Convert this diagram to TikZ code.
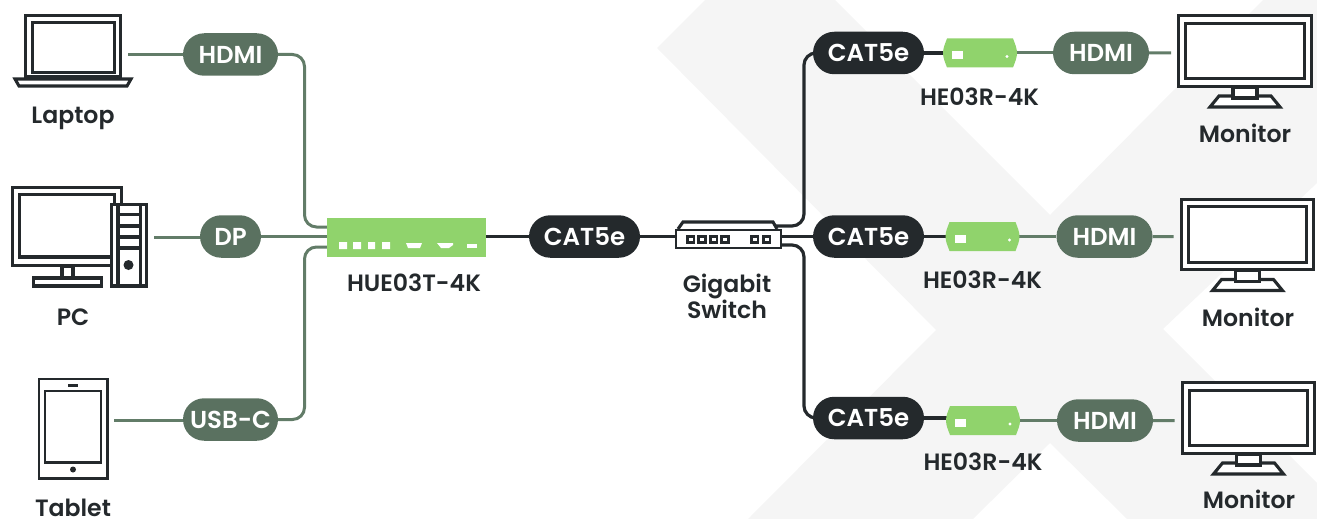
\documentclass[tikz,border=0pt]{standalone}
\usepackage{fontspec}
\setmainfont{Poppins}[UprightFont=* SemiBold]
\usetikzlibrary{shapes.misc}
\definecolor{white}{rgb}{1.0, 1.0, 1.0}
\definecolor{dark}{RGB}{36,41,44}
\definecolor{sage}{RGB}{90,113,96}
\definecolor{cablegreen}{RGB}{98,124,104}
\definecolor{lime}{RGB}{144,211,108}
\definecolor{backgrey}{RGB}{245,245,245}
\pgfdeclarelayer{backlayer}
\pgfdeclarelayer{edgelayer}
\pgfdeclarelayer{nodelayer}
\pgfsetlayers{backlayer,edgelayer,nodelayer,main}
\tikzstyle{pill}=[rounded rectangle,inner sep=0pt,minimum height=42.5pt,text=white,font=\fontsize{24.5}{28}\selectfont]
\tikzstyle{greenpill}=[pill,fill=sage]
\tikzstyle{darkpill}=[pill,fill=dark,minimum width=111pt]
\tikzstyle{label}=[inner sep=0pt,text=dark,align=center,font=\fontsize{23.6}{28}\selectfont]
\tikzstyle{icon}=[draw=dark,fill=white,line width=3.1pt]
\tikzstyle{cable}=[line width=3pt,color=cablegreen,rounded corners=12pt]
\tikzstyle{darkcable}=[line width=3.2pt,color=dark,rounded corners=12pt]
\tikzset{
    monitor/.pic={
        \draw [style = icon] (-66.4,-35.4) rectangle (66.4,35.4);
        \draw [style = icon] (-59.4,-27.6) rectangle (59.4,27.6);
        \draw [style = icon] (-26,45) -- (26,45) -- (35,56) -- (-35,56) -- cycle;
        \draw [style = icon] (-12,36) rectangle (12,47);
        \coordinate (-in) at (-74,2);
    },
    receiver/.pic={
        \fill [lime] (-33,-14.5) -- (33,-14.5) .. controls (35,-9) and (37,-5) .. (37,0)
            .. controls (37,5) and (35,9) .. (33,14.5) -- (-33,14.5)
            .. controls (-35,9) and (-37,5) .. (-37,0) .. controls (-37,-5) and (-35,-9) .. (-33,-14.5) -- cycle;
        \fill [white] (-28,-1.5) rectangle (-17,6.5);
        \fill [white] (27,3.5) circle (1.6);
        \coordinate (-c) at (0,0);
    }
}
\begin{document}
\begin{tikzpicture}[x=1pt,y=-1pt]
        \useasboundingbox (0,0) rectangle (1317,519);

        \begin{pgfonlayer}{backlayer}
            \fill [backgrey] (705,0) -- (657,48) -- (936,330) -- (748,519) -- (973,519) -- (1050,443)
                -- (1127,519) -- (1317,519) -- (1317,483) -- (1163,329) -- (1317,183) -- (1317,0)
                -- (1263,0) -- (1050,215) -- (835,0) -- cycle;
        \end{pgfonlayer}

        \begin{pgfonlayer}{nodelayer}
            % sources
            \draw [style = icon] (25.5,15.5) rectangle (120.5,77);
            \draw [style = icon] (32.5,22.5) rectangle (114.5,72.5);
            \draw [style = icon] (15,79) -- (131,79) -- (127,86) -- (19,86) -- cycle;
            \coordinate (laptopout) at (128,54.5);
            \node [style = label] (laptop) at (73,118) {Laptop};

            \draw [style = icon] (12.5,187.5) rectangle (121.5,265.5);
            \draw [style = icon] (19.5,194.5) rectangle (114.5,257);
            \draw [style = icon] (62,266) rectangle (73,278);
            \draw [style = icon] (33.5,278) rectangle (101.5,286);
            \draw [style = icon] (111.5,204.5) rectangle (146.5,286);
            \draw [style = icon] (118,204.5) rectangle (140.5,286);
            \draw [dark,line width=3.1pt] (118,214.5) -- (140.5,214.5) (118,226) -- (140.5,226)
                (118,237) -- (140.5,237) (118,248) -- (140.5,248);
            \fill [dark] (128.5,265) circle (5);
            \coordinate (pcout) at (154,237);
            \node [style = label] (pc) at (73,317) {PC};

            \draw [style = icon, line width=2.8pt] (38.9,378.9) rectangle (107.1,478.1);
            \draw [style = icon, line width=2.8pt] (45,391) rectangle (101,462.5);
            \fill [dark] (68,384) rectangle (78,387);
            \fill [dark] (73,469.5) circle (3);
            \coordinate (tabletout) at (114,420);
            \node [style = label] (tablet) at (73,507.5) {Tablet};

            \node [style = greenpill, minimum width=95pt] (hdmi1) at (230.5,54.5) {HDMI};
            \node [style = greenpill, minimum width=61pt] (dp) at (230.5,236.5) {DP};
            \node [style = greenpill, minimum width=95pt] (usbc) at (230.5,419.5) {USB-C};

            % transmitter
            \node [fill=lime, inner sep=0pt, minimum width=159pt, minimum height=39pt] (hue) at (406.5,237.5) {};
            \fill [white] (339,242) rectangle (347,249) (353,242) rectangle (361,249)
                (368,242) rectangle (375,249) (382,242) rectangle (390,249);
            \fill [white] (406,243) -- (422,243) -- (420,248) -- (408,248) -- cycle;
            \fill [white] (437,243) -- (453,243) -- (453,245) -- (449,248) -- (441,248) -- cycle;
            \fill [white] (467,244) rectangle (477,248);
            \node [style = label] (huelabel) at (414,283) {HUE03T-4K};

            \node [style = darkpill] (cat1) at (584.5,236.5) {CAT5e};

            % switch
            \draw [style = icon] (678,229) -- (683,222) -- (773,222) -- (777,229);
            \node [draw=dark, fill=white, line width=2.8pt, inner sep=0pt, minimum width=105pt, minimum height=18pt] (sw) at (728.5,239) {};
            \draw [style = icon, line width=2.6pt] (687.2,236.2) rectangle (693.8,242.2)
                (698.7,236.2) rectangle (705.3,242.2) (710.2,236.2) rectangle (716.8,242.2)
                (721.7,236.2) rectangle (728.3,242.2) (751.2,236.2) rectangle (757.8,242.2)
                (763.2,236.2) rectangle (769.8,242.2);
            \coordinate (swup) at (775,226);
            \coordinate (swdown) at (780,245);
            \node [style = label] (swlabel) at (727,296.5) {Gigabit\\[-1.5pt]Switch};

            % top row
            \node [style = darkpill] (cat2) at (868.5,53) {CAT5e};
            \pic (he1) at (980,53) {receiver};
            \node [style = label] (he1label) at (979.5,97) {HE03R-4K};
            \node [style = greenpill, minimum width=96pt] (hdmi2) at (1101,53) {HDMI};
            \pic (mon1) at (1245,51) {monitor};
            \node [style = label] (mon1label) at (1245,133) {Monitor};

            % middle row
            \node [style = darkpill] (cat3) at (868.5,236.5) {CAT5e};
            \pic (he2) at (982.5,236.5) {receiver};
            \node [style = label] (he2label) at (982.5,280) {HE03R-4K};
            \node [style = greenpill, minimum width=96pt] (hdmi3) at (1104.5,236.5) {HDMI};
            \pic (mon2) at (1247.5,234.5) {monitor};
            \node [style = label] (mon2label) at (1248,317) {Monitor};

            % bottom row
            \node [style = darkpill] (cat4) at (868.5,418) {CAT5e};
            \pic (he3) at (983,420.5) {receiver};
            \node [style = label] (he3label) at (983,462) {HE03R-4K};
            \node [style = greenpill, minimum width=96pt] (hdmi4) at (1105,420.5) {HDMI};
            \pic (mon3) at (1248.5,418) {monitor};
            \node [style = label] (mon3label) at (1249,499) {Monitor};
        \end{pgfonlayer}

        \begin{pgfonlayer}{edgelayer}
            \draw [style = cable] (laptopout) to (laptopout -| hdmi1.west);
            \draw [style = cable] (pcout) to (pcout -| dp.west);
            \draw [style = cable] (tabletout) to (tabletout -| usbc.west);
            \draw [style = cable] (hdmi1.east) -- (304.5,54.5) -- (304.5,227) -- (330,227);
            \draw [style = cable] (dp.east) to (dp.east -| hue.west);
            \draw [style = cable] (usbc.east) -- (304.5,419.5) -- (304.5,247) -- (330,247);
            \draw [style = darkcable] (cat1.west -| hue.east) to (cat1.west);
            \draw [style = darkcable] (cat1.east) to (cat1.east -| sw.west);
            \draw [style = darkcable] (swup) -- (804,226) -- (804,53) -- (cat2.west);
            \draw [style = darkcable] (cat3.west -| sw.east) to (cat3.west);
            \draw [style = darkcable] (swdown) -- (804,245) -- (804,418) -- (cat4.west);
            \draw [style = darkcable] (cat2.east) to (he1-c);
            \draw [style = darkcable] (cat3.east) to (he2-c);
            \draw [style = darkcable] (cat4.east) to (cat4.east -| he3-c);
            \draw [style = cable] (he1-c) to (hdmi2);
            \draw [style = cable] (he2-c) to (hdmi3);
            \draw [style = cable] (he3-c) to (hdmi4);
            \draw [style = cable] (hdmi2) to (hdmi2 -| mon1-in);
            \draw [style = cable] (hdmi3) to (hdmi3 -| mon2-in);
            \draw [style = cable] (hdmi4) to (hdmi4 -| mon3-in);
        \end{pgfonlayer}
    \end{tikzpicture}
\end{document}
